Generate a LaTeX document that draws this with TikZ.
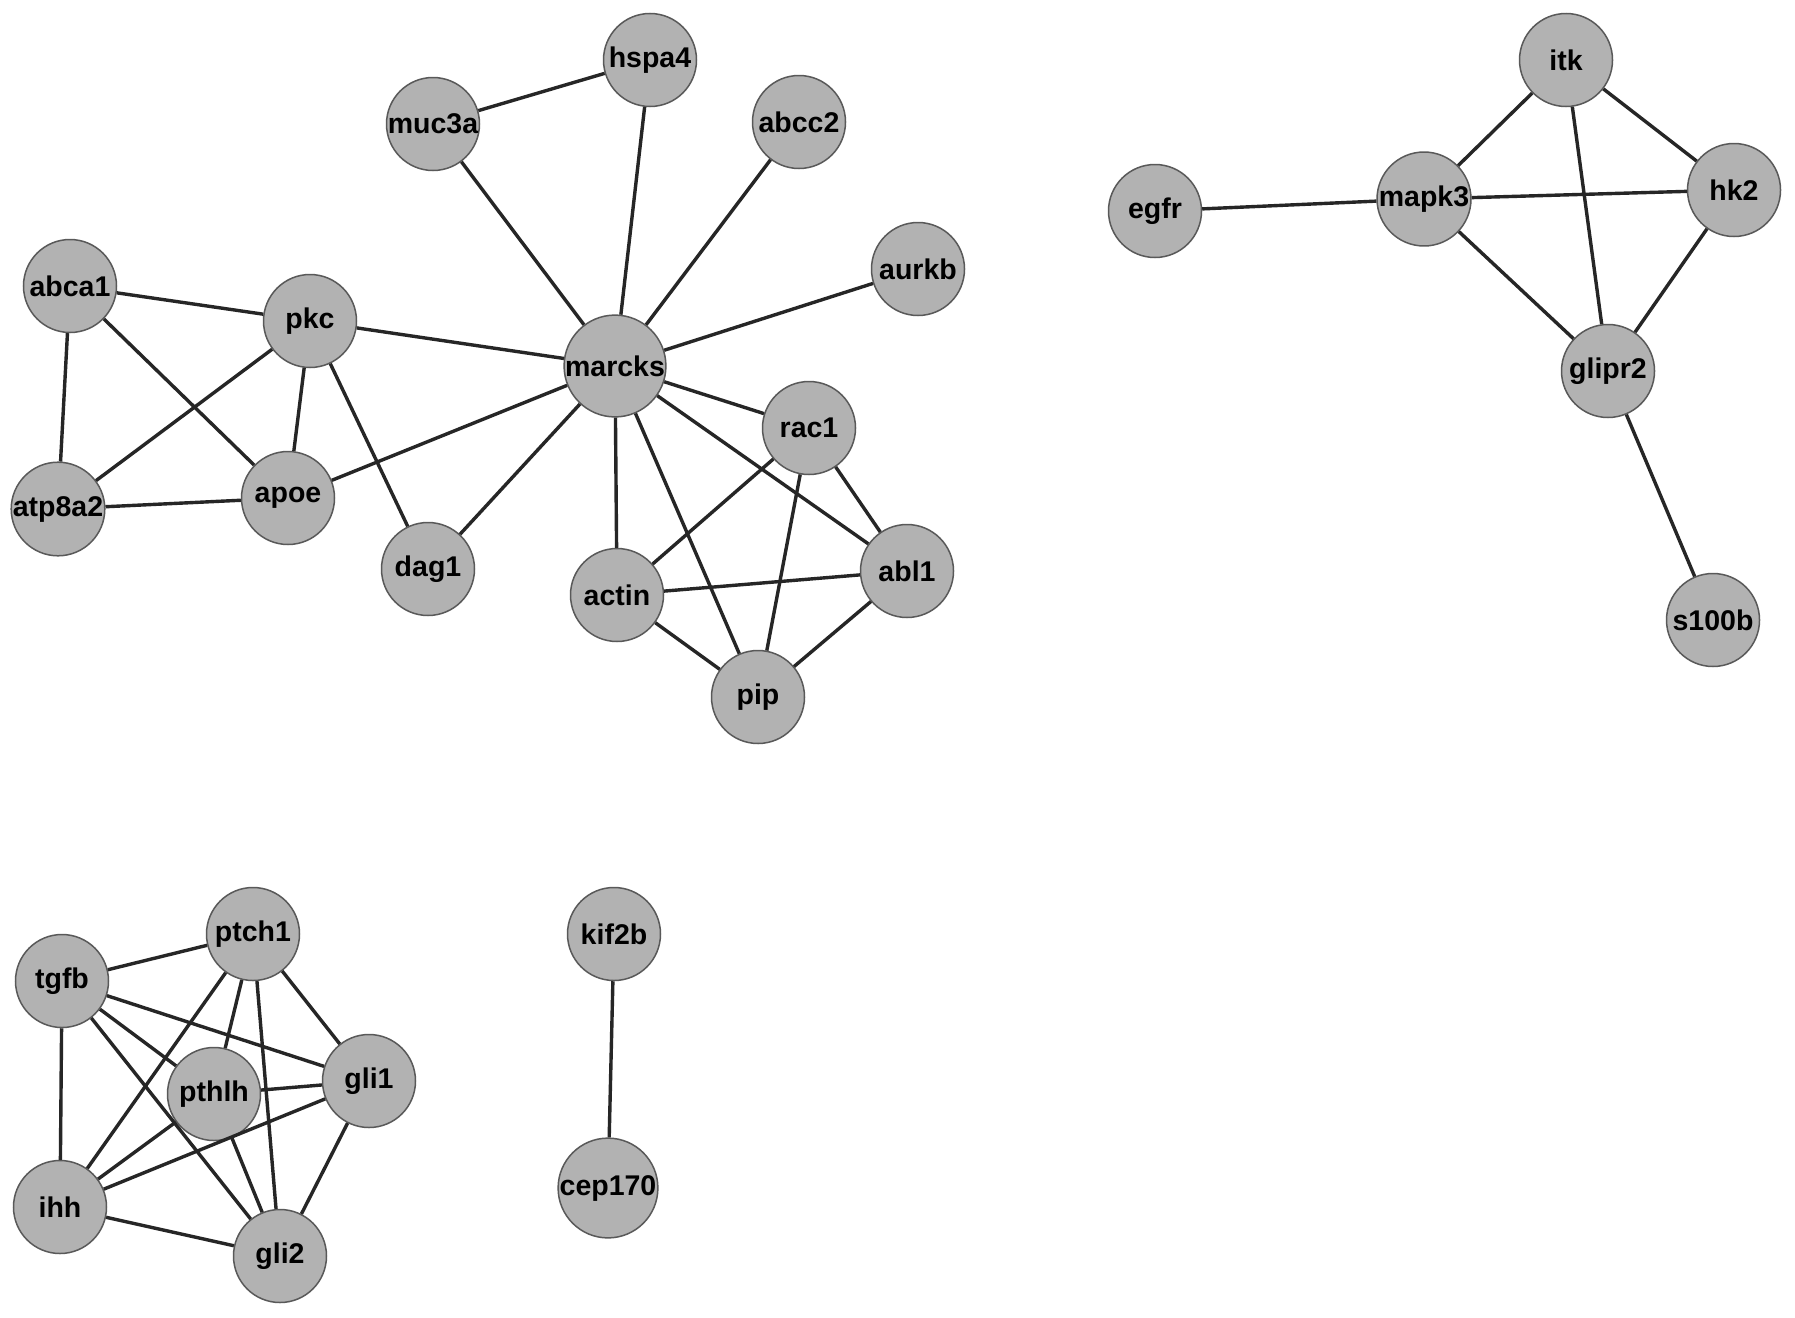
\documentclass[tikz,border=0pt]{standalone}
\usepackage{fontspec}
\setmainfont{Liberation Sans}
\begin{document}
\begin{tikzpicture}[x=1pt,y=-1pt,
  gene/.style={circle,draw=black!65,line width=1.5pt,fill=black!30,minimum size=93pt,inner sep=0pt,font=\fontsize{28.5}{30}\selectfont\bfseries},
  link/.style={draw=black!85,line width=3.4pt}]
\useasboundingbox (0,0) rectangle (1795,1317);
\fill[white] (0,0) rectangle (1795,1317);
\node[gene] (hspa4) at (650,60) {hspa4};
\node[gene] (muc3a) at (433,124) {muc3a};
\node[gene] (abcc2) at (799,122) {abcc2};
\node[gene] (aurkb) at (918,269) {aurkb};
\node[gene] (abca1) at (70,286) {abca1};
\node[gene] (pkc) at (310,321) {pkc};
\node[gene] (marcks) at (615,366) {marcks};
\node[gene] (rac1) at (809,428) {rac1};
\node[gene] (atp8a2) at (58,509) {atp8a2};
\node[gene] (apoe) at (288,498) {apoe};
\node[gene] (dag1) at (428,569) {dag1};
\node[gene] (actin) at (617,595) {actin};
\node[gene] (abl1) at (907,571) {abl1};
\node[gene] (pip) at (758,697) {pip};
\node[gene] (egfr) at (1155,211) {egfr};
\node[gene] (itk) at (1566,60) {itk};
\node[gene] (hk2) at (1734,190) {hk2};
\node[gene] (mapk3) at (1424,199) {mapk3};
\node[gene] (glipr2) at (1608,371) {glipr2};
\node[gene] (s100b) at (1713,620) {s100b};
\node[gene] (ptch1) at (253,934) {ptch1};
\node[gene] (tgfb) at (62,981) {tgfb};
\node[gene] (pthlh) at (214,1094) {pthlh};
\node[gene] (gli1) at (369,1081) {gli1};
\node[gene] (ihh) at (60,1207) {ihh};
\node[gene] (gli2) at (280,1256) {gli2};
\node[gene] (kif2b) at (614,934) {kif2b};
\node[gene] (cep170) at (608,1188) {cep170};
\foreach \a/\b in {muc3a/hspa4,hspa4/marcks,muc3a/marcks,abcc2/marcks,aurkb/marcks,
  abca1/pkc,abca1/atp8a2,abca1/apoe,pkc/marcks,pkc/atp8a2,pkc/apoe,pkc/dag1,
  atp8a2/apoe,apoe/marcks,dag1/marcks,marcks/rac1,marcks/actin,marcks/pip,marcks/abl1,
  rac1/actin,rac1/pip,rac1/abl1,actin/abl1,actin/pip,abl1/pip,
  egfr/mapk3,itk/mapk3,itk/hk2,itk/glipr2,mapk3/hk2,mapk3/glipr2,hk2/glipr2,glipr2/s100b,
  tgfb/ptch1,tgfb/pthlh,tgfb/gli1,tgfb/gli2,tgfb/ihh,ptch1/pthlh,ptch1/gli1,ptch1/gli2,
  ptch1/ihh,pthlh/gli1,pthlh/gli2,pthlh/ihh,gli1/ihh,gli1/gli2,ihh/gli2,kif2b/cep170}
  \draw[link] (\a) -- (\b);
\end{tikzpicture}
\end{document}
